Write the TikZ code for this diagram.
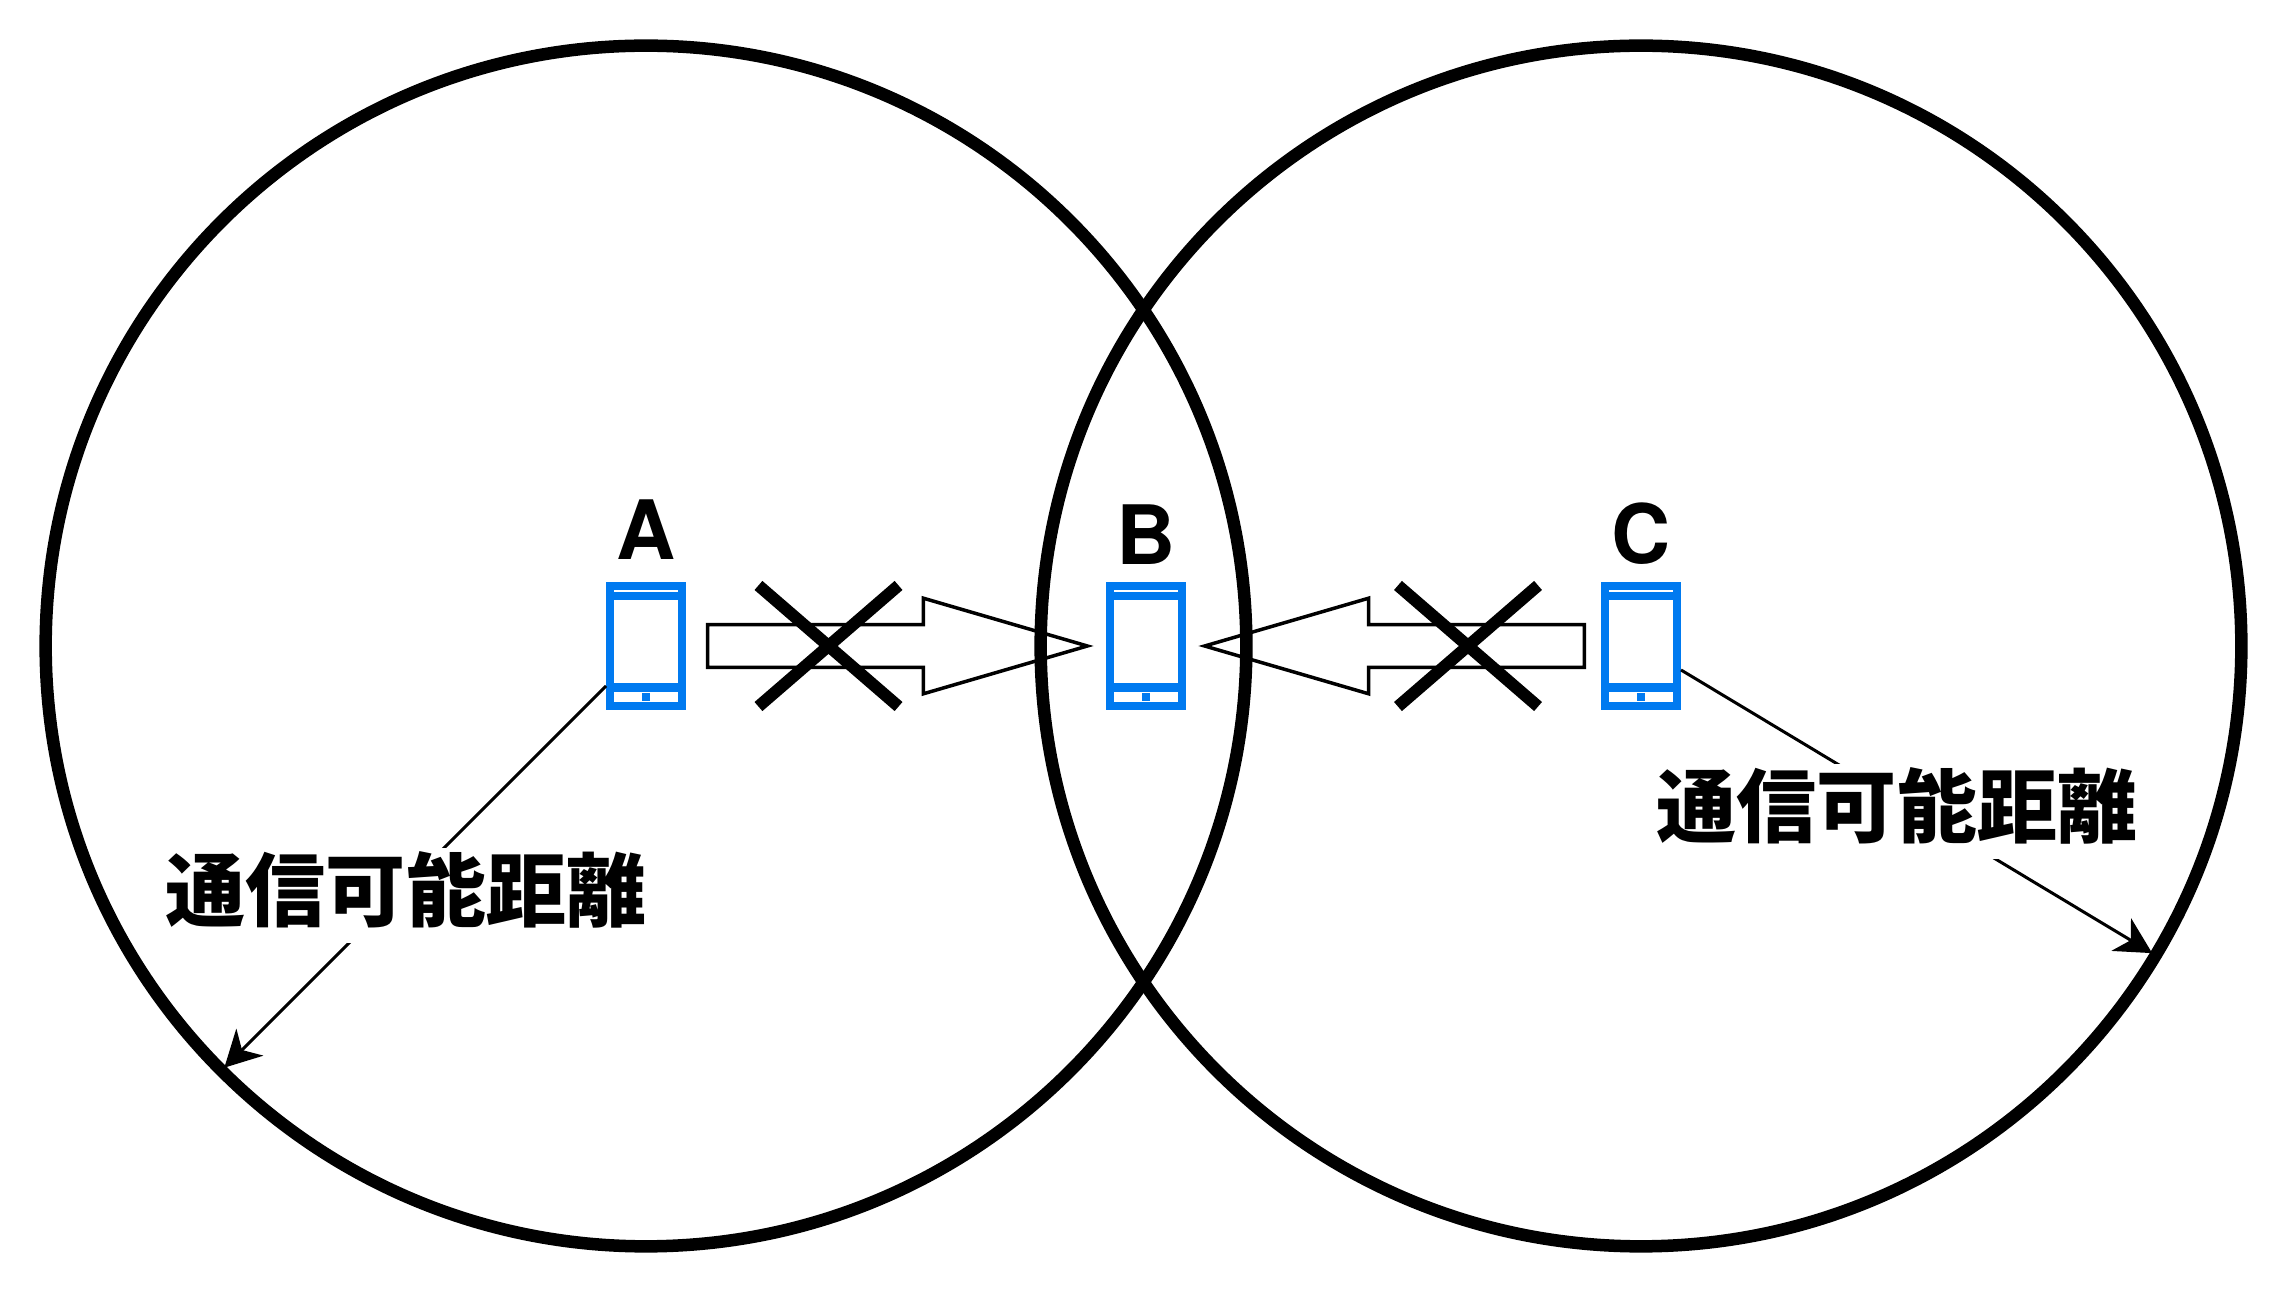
\documentclass[tikz,border=0pt]{standalone}
\usepackage{fontspec}
\setmainfont{TeX Gyre Heros}
\newfontfamily\cjk{Noto Sans CJK JP}
\usepackage{xcolor}
\usepackage{tikz}
\usetikzlibrary{arrows.meta,positioning,shapes.arrows,shapes.misc}
\definecolor{PhoneBlue}{HTML}{007AF0}

\begin{document}
\begin{tikzpicture}[
  x=.01cm,y=-.01cm,
  reach/.style={draw,circle,line width=.125cm,minimum size=12cm,inner sep=0pt,outer sep=0pt},
  phone/.style={draw=PhoneBlue,fill=white,line width=.08cm,minimum width=.72cm,minimum height=1.2cm,inner sep=0pt,
    path picture={
      \fill[PhoneBlue] ([shift={(-.5cm,.46cm)}]path picture bounding box.center) rectangle ++(1cm,.08cm);
      \fill[PhoneBlue] ([shift={(-.5cm,-.46cm)}]path picture bounding box.center) rectangle ++(1cm,.09cm);
      \fill[PhoneBlue] ([shift={(-.04cm,-.55cm)}]path picture bounding box.center) rectangle ++(.08cm,.08cm);
    }},
  letter/.style={font=\bfseries\fontsize{23.3pt}{23.3pt}\selectfont,inner sep=0pt},
  blockarr/.style={draw,single arrow,line width=.035cm,minimum height=3.795cm,minimum width=.92cm,
    single arrow head extend=.265cm,single arrow tip angle=32.5,inner xsep=0pt,inner ysep=.195cm,outer sep=0pt},
  crossmark/.style={draw,cross out,line width=.12cm,minimum width=1.4cm,minimum height=1.21cm,inner sep=0pt,outer sep=0pt},
  arr/.style={-{Stealth[length=.36cm,width=.38cm,inset=.11cm]},line width=.03cm,shorten >=.04cm},
  distlabel/.style={fill=white,font=\cjk\bfseries\fontsize{22.76pt}{22.76pt}\selectfont,inner xsep=0pt,inner ysep=0pt,text height=.72cm,text depth=.23cm}
]
\useasboundingbox (0,0) rectangle (2288,1292);
\node[reach] (reachA) at (646,646) {};
\node[reach] (reachC) at (1641,646) {};
\node[blockarr] (sendA) at (861,646) {};
\node[blockarr,shape border rotate=180] (sendC) at (1431,646) {};
\node[crossmark] (crossA) at (828.5,646) {};
\node[crossmark] (crossC) at (1468,646) {};
\node[phone] (phoneA) at (reachA) {};
\node[phone,right=4.2cm of phoneA] (phoneB) {};
\node[phone] (phoneC) at (reachC) {};
\node[letter,above=.22cm of phoneA] (nameA) {A};
\node[letter,above=.17cm of phoneB] (nameB) {B};
\node[letter,above=.17cm of phoneC] (nameC) {C};
\draw[arr] (phoneA) -- (reachA.225);
\draw[arr] (phoneC) -- (reachC.-31);
\node[distlabel] (distA) at (406,895.5) {通信可能距離};
\node[distlabel] (distC) at (1897,811.5) {通信可能距離};
\end{tikzpicture}
\end{document}
